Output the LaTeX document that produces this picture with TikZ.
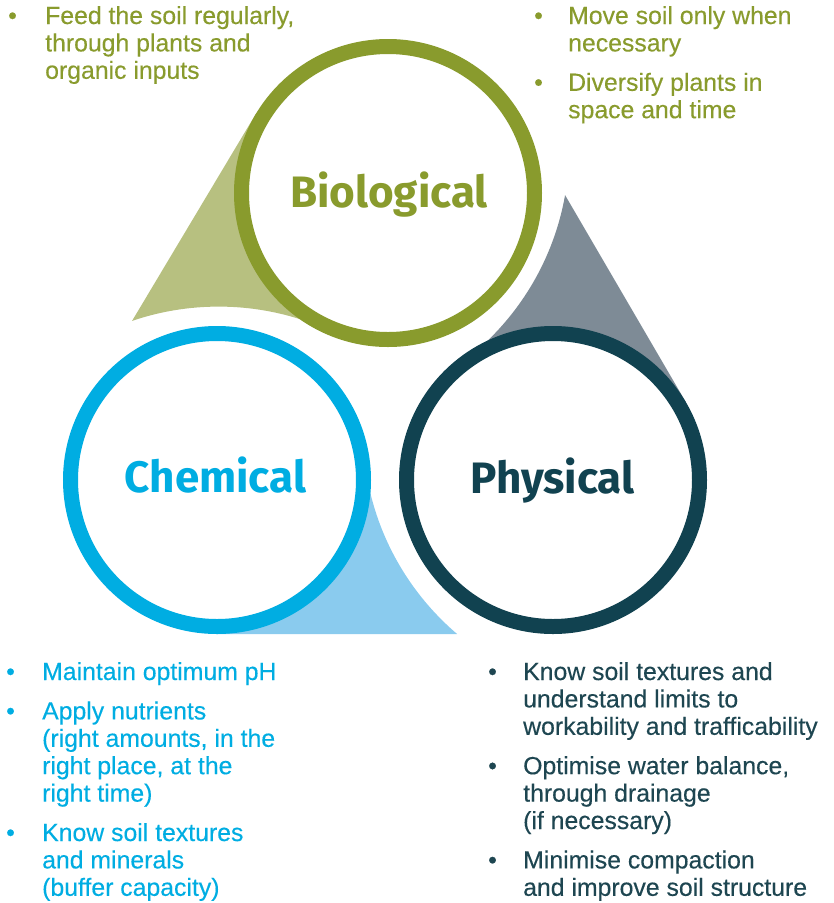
\documentclass[tikz,border=0pt]{standalone}
\usepackage{fontspec}
\setmainfont{Liberation Sans}
\newfontfamily\tipfont{Liberation Sans}[BoldFont={Liberation Sans},BoldFeatures={FakeBold=0.3}]
\newfontfamily\lblfont{Fira Sans}

% ring, wedge and text colours
\definecolor{biogreen}{HTML}{899B2D}
\definecolor{biotail}{HTML}{B7C080}
\definecolor{chemblue}{HTML}{00ADE2}
\definecolor{chemtail}{HTML}{8ACBEE}
\definecolor{physdark}{HTML}{114250}
\definecolor{phystail}{HTML}{7E8B96}
\definecolor{phystext}{HTML}{1E4651}

\begin{document}
\begin{tikzpicture}[x=1pt,y=-1pt,
  ring/.style={circle, draw=#1, line width=15pt, fill=white,
               minimum size=293pt, inner sep=0pt},
  pillar/.style={font=\lblfont\bfseries\fontsize{44}{44}\selectfont,
                 text=#1, anchor=base, inner sep=0pt},
  tips/.style={font=\tipfont\bfseries\fontsize{24.8}{27.4}\selectfont,
               text=#1, anchor=base west, inner sep=0pt},
]
\useasboundingbox (0,0) rectangle (834,903);

% wedges: a tangent edge on one side, a concave arc on the other
\begin{scope}[even odd rule]
  \clip (0,0) rectangle (834,903) (218.7,574.6) circle (268pt);
  \fill[biotail] (132,321) -- (255.8,113.9) -- (388,193) -- (218.7,574.6) -- cycle;
\end{scope}
\begin{scope}[even odd rule]
  \clip (0,0) rectangle (834,903) (301.15,148.2) circle (268pt);
  \fill[phystail] (565,195) -- (686.0,402.4) -- (553,480) -- (301.15,148.2) -- cycle;
\end{scope}
\begin{scope}[even odd rule]
  \clip (0,0) rectangle (834,903) (630.9,430.0) circle (268pt);
  \fill[chemtail] (457,634) -- (217,634) -- (217,480) -- (630.9,430.0) -- cycle;
\end{scope}

% the three rings
\node[ring=biogreen] (bio)  at (388,193) {};
\node[ring=chemblue] (chem) at (217,480) {};
\node[ring=physdark] (phys) at (553,480) {};

\node[pillar=biogreen] (biolbl)  at (389,207)   {Biological};
\node[pillar=chemblue] (chemlbl) at (215.5,492) {Chemical};
\node[pillar=physdark] (physlbl) at (552.5,493) {Physical};

% bullet lists
\node[tips=biogreen] (biofeed) at (8,24) {\begin{tabular}[t]{@{}p{37pt}@{}l@{}}
\textbullet & Feed the soil regularly,\\
 & through plants and\\
 & organic inputs
\end{tabular}};

\node[tips=biogreen] (biomove) at (534,24) {\begin{tabular}[t]{@{}p{34pt}@{}l@{}}
\textbullet & Move soil only when\\
 & necessary\\[12pt]
\textbullet & Diversify plants in\\
 & space and time
\end{tabular}};

\node[tips=chemblue] (chemtips) at (6,680) {\begin{tabular}[t]{@{}p{36pt}@{}l@{}}
\textbullet & Maintain optimum pH\\[12pt]
\textbullet & Apply nutrients\\
 & (right amounts, in the\\
 & right place, at the\\
 & right time)\\[12pt]
\textbullet & Know soil textures\\
 & and minerals\\
 & (buffer capacity)
\end{tabular}};

\node[tips=phystext] (phystips) at (488,680) {\begin{tabular}[t]{@{}p{35pt}@{}l@{}}
\textbullet & Know soil textures and\\
 & understand limits to\\
 & workability and trafficability\\[12pt]
\textbullet & Optimise water balance,\\
 & through drainage\\
 & (if necessary)\\[12pt]
\textbullet & Minimise compaction\\
 & and improve soil structure
\end{tabular}};
\end{tikzpicture}
\end{document}
